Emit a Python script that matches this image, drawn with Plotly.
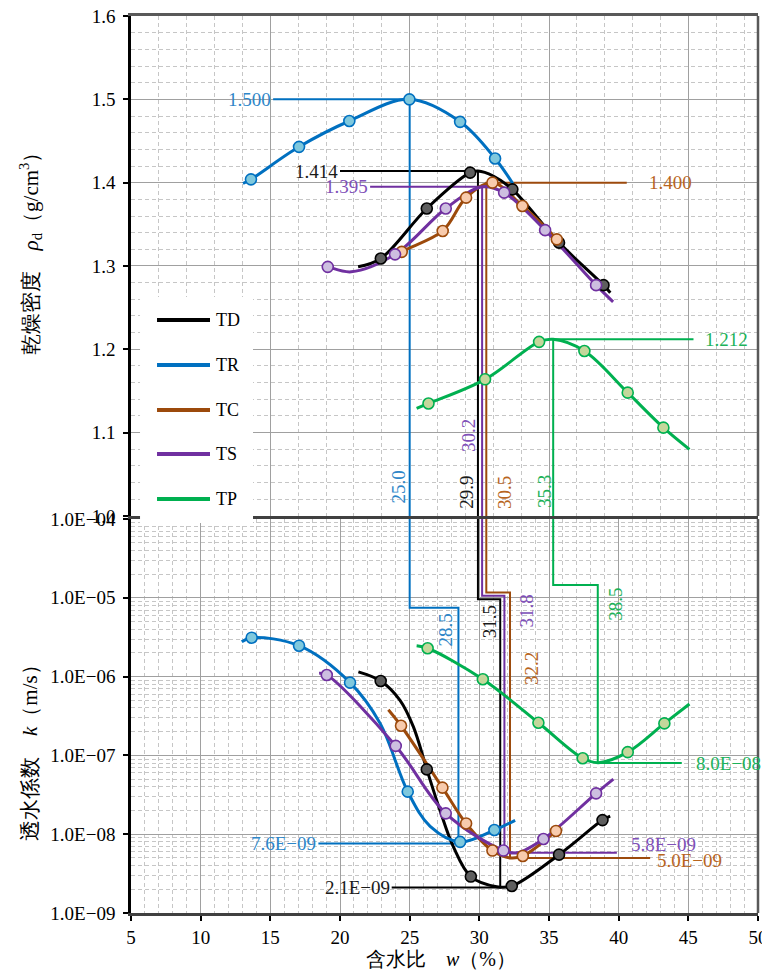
import math
import plotly.graph_objects as go

# ---------------- data ----------------
series_names = ["TD", "TR", "TC", "TS", "TP"]

# dry density: measured points
TD_w = [22.93, 26.23, 29.34, 32.37, 35.72, 38.91]
TD_rho = [1.309, 1.369, 1.412, 1.392, 1.328, 1.277]
TR_w = [13.61, 17.06, 20.67, 24.98, 28.62, 31.13]
TR_rho = [1.404, 1.443, 1.474, 1.500, 1.473, 1.429]
TC_w = [24.43, 27.37, 29.05, 30.94, 33.09, 35.56]
TC_rho = [1.317, 1.342, 1.382, 1.400, 1.372, 1.332]
TS_w = [19.12, 23.95, 27.59, 31.78, 34.72, 38.38]
TS_rho = [1.299, 1.314, 1.369, 1.388, 1.343, 1.277]
TP_w = [26.35, 30.41, 34.29, 37.54, 40.65, 43.21]
TP_rho = [1.135, 1.164, 1.209, 1.198, 1.148, 1.106]

# dry density: fitted curves
TD_cw = [21.3, 22.93, 26.23, 29.34, 29.9, 31.0, 32.37, 35.72, 38.91, 39.4]
TD_crho = [1.299, 1.309, 1.369, 1.412, 1.414, 1.408, 1.392, 1.328, 1.277, 1.268]
TR_cw = [13.04, 13.61, 17.06, 20.67, 24.98, 28.62, 31.13, 32.4]
TR_crho = [1.399, 1.404, 1.443, 1.474, 1.500, 1.473, 1.429, 1.399]
TC_cw = [23.8, 24.43, 27.37, 29.05, 30.94, 33.09, 35.56, 35.9]
TC_crho = [1.309, 1.317, 1.342, 1.382, 1.400, 1.372, 1.332, 1.325]
TS_cw = [18.8, 19.12, 20.8, 23.95, 27.59, 30.2, 31.78, 34.72, 38.38, 39.6]
TS_crho = [1.300, 1.299, 1.293, 1.314, 1.369, 1.395, 1.388, 1.343, 1.277, 1.257]
TP_cw = [25.5, 26.35, 30.41, 34.29, 35.3, 37.54, 40.65, 43.21, 45.08]
TP_crho = [1.129, 1.135, 1.164, 1.209, 1.212, 1.198, 1.148, 1.106, 1.080]

# permeability: measured points
TD_kw = [22.92, 26.23, 29.39, 32.33, 35.72, 38.84]
TD_k = [8.8e-7, 6.65e-8, 2.9e-9, 2.2e-9, 5.5e-9, 1.51e-8]
TR_kw = [13.66, 17.06, 20.72, 24.86, 28.62, 31.08]
TR_k = [3.12e-6, 2.47e-6, 8.4e-7, 3.47e-8, 8.0e-9, 1.13e-8]
TC_kw = [24.38, 27.35, 29.05, 30.94, 33.12, 35.5]
TC_k = [2.38e-7, 3.9e-8, 1.37e-8, 6.2e-9, 5.3e-9, 1.1e-8]
TS_kw = [19.05, 24.0, 27.59, 31.73, 34.6, 38.38]
TS_k = [1.05e-6, 1.32e-7, 1.84e-8, 6.2e-9, 8.7e-9, 3.3e-8]
TP_kw = [26.29, 30.25, 34.24, 37.42, 40.65, 43.28]
TP_k = [2.29e-6, 9.25e-7, 2.6e-7, 9.2e-8, 1.1e-7, 2.55e-7]

# permeability: fitted curves
TD_ckw = [21.32, 22.92, 24.31, 25.27, 26.23, 27.18, 28.14, 29.39, 31.25, 32.33, 35.72, 38.84, 39.39]
TD_ck = [1.15e-6, 8.8e-7, 5.0e-7, 2.3e-7, 6.65e-8, 2.0e-8, 6.9e-9, 2.9e-9, 2.16e-9, 2.2e-9, 5.5e-9, 1.51e-8, 1.7e-8]
TR_ckw = [12.95, 13.66, 17.06, 20.72, 22.87, 24.86, 26.47, 28.62, 31.08, 32.57]
TR_ck = [2.77e-6, 3.12e-6, 2.47e-6, 8.4e-7, 2.57e-7, 3.47e-8, 1.26e-8, 8.0e-9, 1.13e-8, 1.5e-8]
TC_ckw = [23.47, 24.38, 27.35, 29.05, 30.94, 32.2, 33.12, 35.5, 35.8]
TC_ck = [3.8e-7, 2.38e-7, 3.9e-8, 1.37e-8, 6.2e-9, 5.0e-9, 5.3e-9, 1.1e-8, 1.25e-8]
TS_ckw = [18.5, 19.05, 24.0, 27.59, 31.73, 32.7, 34.6, 38.38, 39.62]
TS_ck = [1.1e-6, 1.05e-6, 1.32e-7, 1.84e-8, 6.2e-9, 5.8e-9, 8.7e-9, 3.3e-8, 5.0e-8]
TP_ckw = [25.5, 26.29, 30.25, 34.24, 37.42, 38.55, 40.65, 43.28, 45.08]
TP_ck = [2.47e-6, 2.29e-6, 9.25e-7, 2.6e-7, 9.2e-8, 8.1e-8, 1.1e-7, 2.55e-7, 4.5e-7]

# optimum values (order: TD, TR, TC, TS, TP)
w_opt = [29.9, 25.0, 30.5, 30.2, 35.3]
rho_max = [1.414, 1.500, 1.400, 1.395, 1.212]
w_kmin = [31.5, 28.5, 32.2, 31.8, 38.5]
k_min = [2.1e-9, 7.6e-9, 5.0e-9, 5.8e-9, 8.0e-8]

x_ticks_bottom = [5, 10, 15, 20, 25, 30, 35, 40, 45, 50]
rho_tick_vals = [1.0, 1.1, 1.2, 1.3, 1.4, 1.5, 1.6]
rho_tick_text = ["1.0", "1.1", "1.2", "1.3", "1.4", "1.5", "1.6"]
k_tick_vals = [1e-9, 1e-8, 1e-7, 1e-6, 1e-5, 1e-4]
k_tick_text = ["1.0E\u221209", "1.0E\u221208", "1.0E\u221207", "1.0E\u221206", "1.0E\u221205", "1.0E\u221204"]

# ---------------- styling ----------------
line_colors = ["#000000", "#0070C0", "#9C4A0C", "#7030A0", "#00B050"]
marker_fill = ["#5E5E5E", "#7FC8DD", "#F8CBAD", "#CDBFE0", "#C4D79B"]
label_colors = ["#1A1A1A", "#2E86C8", "#B8651E", "#8050B8", "#1DB25A"]

# guide-line geometry (styling): other end of horizontal label lines, step heights
rho_line_end = [20.0, 15.2, 40.58, 22.16, 45.37]
k_line_end = [23.71, 18.45, 42.26, 39.87, 44.53]
step_k = [9.57e-6, 7.48e-6, 1.17e-5, 1.06e-5, 1.45e-5]

SERIF = "Liberation Serif, Times New Roman, DejaVu Serif, serif"

top_pts = [(TD_w, TD_rho), (TR_w, TR_rho), (TC_w, TC_rho), (TS_w, TS_rho), (TP_w, TP_rho)]
top_cur = [(TD_cw, TD_crho), (TR_cw, TR_crho), (TC_cw, TC_crho), (TS_cw, TS_crho), (TP_cw, TP_crho)]
bot_pts = [(TD_kw, TD_k), (TR_kw, TR_k), (TC_kw, TC_k), (TS_kw, TS_k), (TP_kw, TP_k)]
bot_cur = [(TD_ckw, TD_ck), (TR_ckw, TR_ck), (TC_ckw, TC_ck), (TS_ckw, TS_ck), (TP_ckw, TP_ck)]

fig = go.Figure()

# guide lines
for i in range(5):
    c = line_colors[i]
    fig.add_trace(go.Scatter(
        x=[rho_line_end[i], w_opt[i], w_opt[i]], y=[rho_max[i], rho_max[i], 1.0],
        mode="lines", line=dict(color=c, width=2), xaxis="x", yaxis="y",
        showlegend=False, hoverinfo="skip"))
    fig.add_trace(go.Scatter(
        x=[w_opt[i], w_opt[i], w_kmin[i], w_kmin[i], k_line_end[i]],
        y=[1e-4, step_k[i], step_k[i], k_min[i], k_min[i]],
        mode="lines", line=dict(color=c, width=2), xaxis="x2", yaxis="y2",
        showlegend=False, hoverinfo="skip"))

# curves and markers
for i in range(5):
    c = line_colors[i]
    fig.add_trace(go.Scatter(x=top_cur[i][0], y=top_cur[i][1], mode="lines",
                             line=dict(color=c, width=3, shape="spline", smoothing=1.0),
                             xaxis="x", yaxis="y", showlegend=False, name=series_names[i]))
    fig.add_trace(go.Scatter(x=bot_cur[i][0], y=bot_cur[i][1], mode="lines",
                             line=dict(color=c, width=3, shape="spline", smoothing=1.0),
                             xaxis="x2", yaxis="y2", showlegend=False, name=series_names[i]))
for i in range(5):
    c = line_colors[i]
    mk = dict(size=11, color=marker_fill[i], line=dict(color=c, width=1.6))
    fig.add_trace(go.Scatter(x=top_pts[i][0], y=top_pts[i][1], mode="markers", marker=mk,
                             xaxis="x", yaxis="y", showlegend=False, name=series_names[i]))
    fig.add_trace(go.Scatter(x=bot_pts[i][0], y=bot_pts[i][1], mode="markers", marker=mk,
                             xaxis="x2", yaxis="y2", showlegend=False, name=series_names[i]))

# ---------------- annotations ----------------
ann = []


def lab_font(i):
    return dict(family=SERIF, size=19, color=label_colors[i])


# horizontal value labels (rho_max)
rho_side = ["left", "left", "right", "left", "right"]
rho_shift = [0, 0, 20, 0, 10]
for i in range(5):
    ann.append(dict(x=rho_line_end[i], y=rho_max[i], xref="x", yref="y",
                    text=f"{rho_max[i]:.3f}", showarrow=False,
                    xanchor="right" if rho_side[i] == "left" else "left",
                    xshift=rho_shift[i], yanchor="middle", font=lab_font(i)))

# horizontal value labels (k_min)
k_side = ["left", "left", "right", "right", "right"]
k_xshift = [0, 0, 5, 12, 12]
k_yshift = [0, 0, -3, 8, 0]
for i in range(5):
    txt = f"{k_min[i]:.1E}".replace("-", "\u2212")
    ann.append(dict(x=k_line_end[i], y=math.log10(k_min[i]), xref="x2", yref="y2",
                    text=txt, showarrow=False,
                    xanchor="right" if k_side[i] == "left" else "left",
                    xshift=k_xshift[i], yshift=k_yshift[i], yanchor="middle", font=lab_font(i)))

# vertical labels of w_opt (top plot)
wopt_xshift = [-11, -11, 18, -13, -8]
wopt_y = [1.029, 1.035, 1.028, 1.096, 1.029]
for i in range(5):
    ann.append(dict(x=w_opt[i], y=wopt_y[i], xref="x", yref="y", text=f"{w_opt[i]:.1f}",
                    textangle=-90, showarrow=False, xshift=wopt_xshift[i],
                    xanchor="center", yanchor="middle", font=lab_font(i)))

# vertical labels of w at k_min (bottom plot)
wk_xshift = [-11, -13, 21, 22, 17]
wk_logy = [-5.307, -5.409, -5.891, -5.168, -5.079]
for i in range(5):
    ann.append(dict(x=w_kmin[i], y=wk_logy[i], xref="x2", yref="y2", text=f"{w_kmin[i]:.1f}",
                    textangle=-90, showarrow=False, xshift=wk_xshift[i],
                    xanchor="center", yanchor="middle", font=lab_font(i)))

# axis titles
ann.append(dict(x=0.495, y=-0.051, xref="paper", yref="paper", showarrow=False,
                text="含水比\u3000<i>w</i>（%）", xanchor="center", yanchor="middle",
                font=dict(family=SERIF, size=20, color="#000")))
ann.append(dict(x=-0.161, y=0.741, xref="paper", yref="paper", showarrow=False, textangle=-90,
                text="乾燥密度\u3000<i>ρ</i><sub>d</sub>（g/cm<sup>3</sup>）",
                xanchor="center", yanchor="middle", font=dict(family=SERIF, size=21, color="#000")))
ann.append(dict(x=-0.161, y=0.184, xref="paper", yref="paper", showarrow=False, textangle=-90,
                text="透水係数\u3000<i>k</i>（m/s）",
                xanchor="center", yanchor="middle", font=dict(family=SERIF, size=21, color="#000")))

# ---------------- manual legend ----------------
shapes = []
shapes.append(dict(type="rect", xref="paper", yref="paper", x0=0.0144, x1=0.1946,
                   y0=0.4348, y1=0.6867, fillcolor="white", line=dict(width=0), layer="above"))
leg_y = [0.6611, 0.6109, 0.5608, 0.5117, 0.4615]
for i in range(5):
    shapes.append(dict(type="line", xref="paper", yref="paper", x0=0.0415, x1=0.1260,
                       y0=leg_y[i], y1=leg_y[i], line=dict(color=line_colors[i], width=4),
                       layer="above"))
    ann.append(dict(x=0.1324, y=leg_y[i], xref="paper", yref="paper", text=series_names[i],
                    showarrow=False, xanchor="left", yanchor="middle",
                    font=dict(family=SERIF, size=18, color="#000")))

# right borders
shapes.append(dict(type="line", xref="x domain", yref="y domain", x0=1, x1=1, y0=0, y1=1,
                   line=dict(color="#595959", width=2.5), layer="above"))
shapes.append(dict(type="line", xref="x2 domain", yref="y2 domain", x0=1, x1=1, y0=0, y1=1,
                   line=dict(color="#595959", width=2.5), layer="above"))

major_grid = "#A0A0A0"
minor_grid = "#C6C6C6"
minor_k = [m * 10.0 ** e for e in range(-9, -4) for m in range(2, 10)]
TICKFONT = dict(family=SERIF, size=19, color="#000")

# the page body has an 8px margin: figure is 8px smaller and margins shifted by 8px
fig.update_layout(
    width=762, height=966,
    margin=dict(l=123, r=12, t=8, b=61),
    paper_bgcolor="white", plot_bgcolor="white",
    showlegend=False,
    font=dict(family=SERIF, size=18, color="#000"),
    xaxis=dict(domain=[0, 1], anchor="y", range=[5, 50], tick0=5, dtick=10,
               showticklabels=False, ticks="", zeroline=False, automargin=False,
               showgrid=True, gridcolor=major_grid, gridwidth=1.3,
               minor=dict(dtick=2, tick0=5, showgrid=True, gridcolor=minor_grid,
                          griddash="4px,3px", gridwidth=1),
               showline=True, linecolor="#595959", linewidth=2.5, mirror=True),
    yaxis=dict(domain=[0.4426, 1], anchor="x", range=[1.0, 1.6],
               tickmode="array", tickvals=rho_tick_vals, ticktext=rho_tick_text,
               ticks="outside", ticklen=5, tickcolor="#000", tickwidth=1.5,
               tickfont=TICKFONT, ticklabelstandoff=4, automargin=False,
               ticklabeloverflow="allow",
               showgrid=True, gridcolor=major_grid, gridwidth=1.3, zeroline=False,
               minor=dict(dtick=0.02, tick0=1.0, showgrid=True, gridcolor=minor_grid,
                          griddash="4px,3px", gridwidth=1),
               showline=True, linecolor="#000", linewidth=2.5),
    xaxis2=dict(domain=[0, 1], anchor="y2", range=[5, 50], tickmode="array",
                tickvals=x_ticks_bottom, ticks="outside", ticklen=5, tickcolor="#000",
                tickwidth=1.5, tickfont=TICKFONT, zeroline=False, automargin=False,
                ticklabeloverflow="allow",
                showgrid=True, gridcolor=major_grid, gridwidth=1.3,
                minor=dict(dtick=1, tick0=5, showgrid=True, gridcolor=minor_grid,
                           griddash="4px,3px", gridwidth=1),
                showline=True, linecolor="#404040", linewidth=2.5, mirror=True),
    yaxis2=dict(domain=[0, 0.4392], anchor="x2", type="log", range=[-9, -4],
                tickmode="array", tickvals=k_tick_vals, ticktext=k_tick_text,
                ticks="outside", ticklen=5, tickcolor="#000", tickwidth=1.5,
                tickfont=TICKFONT, ticklabelstandoff=4, automargin=False,
                ticklabeloverflow="allow",
                showgrid=True, gridcolor=major_grid, gridwidth=1.3, zeroline=False,
                minor=dict(tickmode="array", tickvals=minor_k, showgrid=True,
                           gridcolor=minor_grid, griddash="4px,3px", gridwidth=1),
                showline=True, linecolor="#000", linewidth=2.5),
    annotations=ann,
    shapes=shapes,
)

fig.write_html("out.html")
